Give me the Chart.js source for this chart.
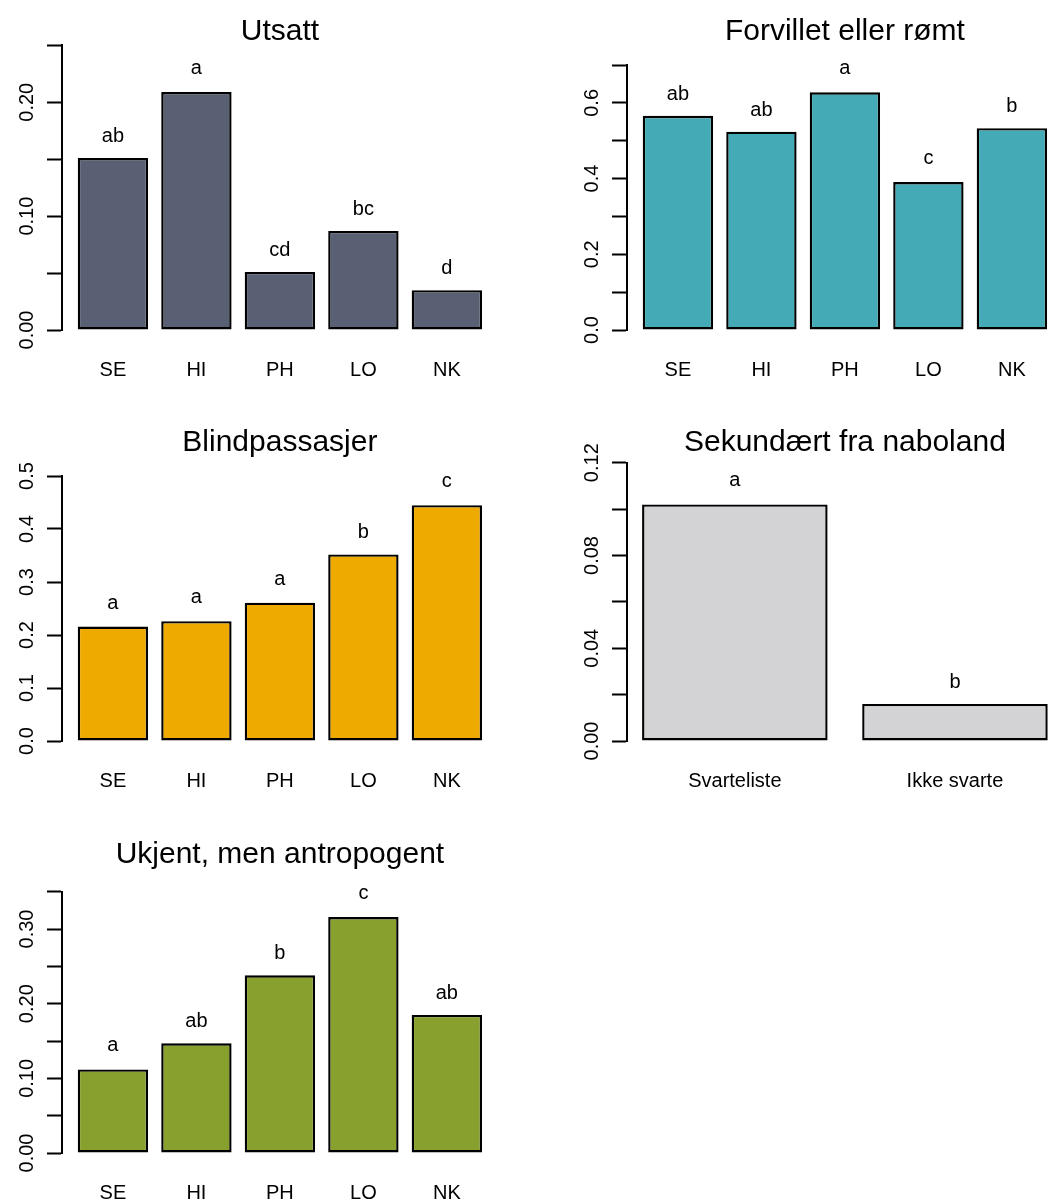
<!DOCTYPE html>
<html>
<head>
<meta charset="utf-8">
<script src="https://cdn.jsdelivr.net/npm/chart.js@4/dist/chart.umd.min.js"></script>
<style>
  html, body { margin: 0; padding: 0; background: #fff; overflow: hidden; width: 1048px; height: 1202px; }
  canvas.panel { position: absolute; }
</style>
</head>
<body>
<canvas id="utsatt" class="panel" width="565" height="411" style="left:0px;top:0px"></canvas>
<canvas id="forvillet" class="panel" width="565" height="411" style="left:565px;top:0px"></canvas>
<canvas id="blind" class="panel" width="565" height="411" style="left:0px;top:411px"></canvas>
<canvas id="sekundaert" class="panel" width="565" height="411" style="left:565px;top:411px"></canvas>
<canvas id="ukjent" class="panel" width="565" height="411" style="left:0px;top:823px"></canvas>
<script>
// Regions and groups on the category axes
const regions = ['SE', 'HI', 'PH', 'LO', 'NK'];
const listGroups = ['Svarteliste', 'Ikke svarte'];

// Utsatt
const utsattValues = [0.151, 0.209, 0.051, 0.087, 0.035];
const utsattLetters = ['ab', 'a', 'cd', 'bc', 'd'];
const utsattTicks = [0, 0.05, 0.10, 0.15, 0.20, 0.25];
const utsattTickLabels = ['0.00', '', '0.10', '', '0.20', ''];

// Forvillet eller rømt
const forvilletValues = [0.566, 0.524, 0.628, 0.391, 0.533];
const forvilletLetters = ['ab', 'ab', 'a', 'c', 'b'];
const forvilletTicks = [0, 0.1, 0.2, 0.3, 0.4, 0.5, 0.6, 0.7];
const forvilletTickLabels = ['0.0', '', '0.2', '', '0.4', '', '0.6', ''];

// Blindpassasjer
const blindValues = [0.216, 0.226, 0.261, 0.352, 0.445];
const blindLetters = ['a', 'a', 'a', 'b', 'c'];
const blindTicks = [0, 0.1, 0.2, 0.3, 0.4, 0.5];
const blindTickLabels = ['0.0', '0.1', '0.2', '0.3', '0.4', '0.5'];

// Sekundært fra naboland
const sekundaertValues = [0.102, 0.016];
const sekundaertLetters = ['a', 'b'];
const sekundaertTicks = [0, 0.02, 0.04, 0.06, 0.08, 0.10, 0.12];
const sekundaertTickLabels = ['0.00', '', '0.04', '', '0.08', '', '0.12'];

// Ukjent, men antropogent
const ukjentValues = [0.112, 0.147, 0.238, 0.316, 0.185];
const ukjentLetters = ['a', 'ab', 'b', 'c', 'ab'];
const ukjentTicks = [0, 0.05, 0.10, 0.15, 0.20, 0.25, 0.30, 0.35];
const ukjentTickLabels = ['0.00', '', '0.10', '', '0.20', '', '0.30', ''];

const FONT = '"Liberation Sans", Arial, sans-serif';
const INK = '#000';

// Title, rotated y tick labels and group letters above the bars
function panelText(cfg) {
  return {
    id: 'panelText',
    afterDraw(chart) {
      const { ctx, chartArea, scales: { y } } = chart;
      ctx.save();
      ctx.fillStyle = INK;
      ctx.textAlign = 'center';
      ctx.textBaseline = 'alphabetic';

      ctx.font = '30px ' + FONT;
      ctx.fillText(cfg.title, (chartArea.left + chartArea.right) / 2, 40);

      ctx.font = '20px ' + FONT;
      cfg.ticks.forEach((v, i) => {
        const t = cfg.tickLabels[i];
        if (!t) return;
        ctx.save();
        ctx.translate(33, y.getPixelForValue(v));
        ctx.rotate(-Math.PI / 2);
        ctx.fillText(t, 0, 0);
        ctx.restore();
      });

      const meta = chart.getDatasetMeta(0);
      meta.data.forEach((bar, i) => {
        const t = cfg.letters[i];
        const asc = ctx.measureText(t).actualBoundingBoxAscent;
        ctx.fillText(t, bar.x, bar.y - 23.5 + asc / 2);
      });
      ctx.restore();
    }
  };
}

function barPanel(id, cfg) {
  const n = cfg.labels.length;
  // bars of width 1 separated by 0.2, axis range padded by 4 %
  const centers = cfg.labels.map((_, i) => 0.7 + 1.2 * i);
  const span = 1.2 * n - 0.2;
  const yMax = cfg.ticks[cfg.ticks.length - 1];

  new Chart(document.getElementById(id), {
    type: 'bar',
    data: {
      datasets: [{
        data: cfg.values.map((v, i) => ({ x: centers[i], y: v })),
        backgroundColor: cfg.color,
        borderColor: INK,
        borderWidth: 2.4,
        borderSkipped: false,
        barPercentage: 0.843,
        categoryPercentage: 1
      }]
    },
    options: {
      responsive: false,
      animation: false,
      devicePixelRatio: 1,
      events: [],
      layout: { padding: { left: 0, right: 67.2, top: cfg.top, bottom: 31 } },
      plugins: {
        legend: { display: false },
        tooltip: { enabled: false },
        title: { display: false }
      },
      scales: {
        x: {
          type: 'linear',
          min: 0.2 - 0.04 * span,
          max: 1.2 * n + 0.04 * span,
          offset: false,
          afterBuildTicks: ax => { ax.ticks = centers.map(v => ({ value: v })); },
          afterFit: ax => { ax.height = 50; },
          grid: { display: false, drawTicks: false },
          border: { display: false },
          ticks: {
            autoSkip: false,
            minRotation: 0,
            maxRotation: 0,
            padding: 28.6,
            color: INK,
            font: { family: FONT, size: 20 },
            callback: (v, i) => cfg.labels[i]
          }
        },
        y: {
          min: 0,
          max: yMax,
          afterBuildTicks: ax => { ax.ticks = cfg.ticks.map(v => ({ value: v })); },
          afterFit: ax => { ax.width = 62; },
          grid: { display: true, drawOnChartArea: false, drawTicks: true, tickLength: 15, tickWidth: 2, tickColor: INK },
          border: { display: true, color: INK, width: 2 },
          ticks: { display: false }
        }
      }
    },
    plugins: [panelText(cfg)]
  });
}

barPanel('utsatt', {
  title: 'Utsatt', labels: regions, values: utsattValues, letters: utsattLetters,
  ticks: utsattTicks, tickLabels: utsattTickLabels, color: '#596074', top: 45.3
});
barPanel('forvillet', {
  title: 'Forvillet eller rømt', labels: regions, values: forvilletValues, letters: forvilletLetters,
  ticks: forvilletTicks, tickLabels: forvilletTickLabels, color: '#44aab5', top: 65
});
barPanel('blind', {
  title: 'Blindpassasjer', labels: regions, values: blindValues, letters: blindLetters,
  ticks: blindTicks, tickLabels: blindTickLabels, color: '#efaa00', top: 65
});
barPanel('sekundaert', {
  title: 'Sekundært fra naboland', labels: listGroups, values: sekundaertValues, letters: sekundaertLetters,
  ticks: sekundaertTicks, tickLabels: sekundaertTickLabels, color: '#d3d3d5', top: 51.7
});
barPanel('ukjent', {
  title: 'Ukjent, men antropogent', labels: regions, values: ukjentValues, letters: ukjentLetters,
  ticks: ukjentTicks, tickLabels: ukjentTickLabels, color: '#87a02e', top: 68.7
});
</script>
</body>
</html>
